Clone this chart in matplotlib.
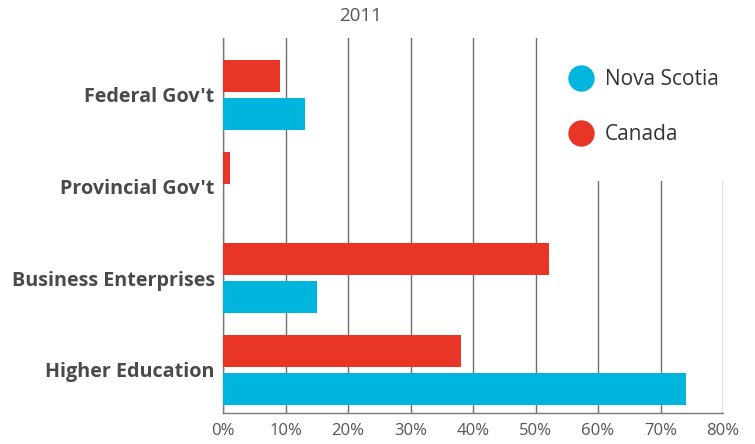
import numpy as np
import matplotlib
matplotlib.use("Agg")
import matplotlib.pyplot as plt
from matplotlib.lines import Line2D
from matplotlib.patches import Rectangle

plt.rcParams['font.family'] = ['Open Sans', 'DejaVu Sans']

sectors = ["Federal Gov't", "Provincial Gov't", "Business Enterprises", "Higher Education"]
canada = [9.1, 1.1, 52.2, 38.0]
nova_scotia = [13.1, 0.0, 15.1, 74.1]
ticks = [0, 10, 20, 30, 40, 50, 60, 70, 80]

RED = "#E83526"
BLUE = "#00B5DD"

fig = plt.figure(figsize=(7.55, 4.44), dpi=100)
ax = fig.add_axes([223/755, 31/444, 500/755, 375/444])

y = np.arange(len(sectors))
h = 0.35
off = 0.206
ax.barh(y - off, canada, height=h, color=RED, zorder=3)
ax.barh(y + off, nova_scotia, height=h, color=BLUE, zorder=3)

ax.set_xlim(0, 80)
ax.set_ylim(3 + 0.47, -0.62)
ax.set_xticks(ticks)
ax.set_xticklabels([f"{t}%" for t in ticks])
ax.set_yticks(y)
ax.set_yticklabels(sectors, fontweight="bold")

ax.grid(axis="x", color="#6e6e6e", linewidth=1.0, zorder=1)
ax.set_axisbelow(True)
for s in ["top", "right"]:
    ax.spines[s].set_visible(False)
for s in ["left", "bottom"]:
    ax.spines[s].set_color("#7a7a7a")
    ax.spines[s].set_linewidth(1.0)

ax.tick_params(axis="x", length=0, pad=7, labelsize=12, labelcolor="#555555")
ax.tick_params(axis="y", length=0, pad=6, labelsize=14.2, labelcolor="#4a4a4a")

# white panel behind the legend hides the upper grid lines
ax.add_patch(Rectangle((0.645, 0.62), 0.37, 0.40, transform=ax.transAxes,
                       facecolor="white", edgecolor="none", zorder=2, clip_on=False))

handles = [
    Line2D([], [], linestyle="none", marker="o", markersize=19,
           markerfacecolor=BLUE, markeredgecolor="none", label="Nova Scotia"),
    Line2D([], [], linestyle="none", marker="o", markersize=19,
           markerfacecolor=RED, markeredgecolor="none", label="Canada"),
]
leg = ax.legend(handles=handles, loc="upper left", bbox_to_anchor=(0.66, 0.962),
                frameon=False, fontsize=15, labelspacing=1.65,
                handletextpad=0.6, handlelength=1.1, borderpad=0.3)
for t in leg.get_texts():
    t.set_color("#333333")
leg.set_zorder(4)

fig.text(361/755, 1 - 16/444, "2011", ha="center", va="center",
         fontsize=13.5, color="#555555")

fig.savefig("out.png", dpi=100, facecolor="white")
